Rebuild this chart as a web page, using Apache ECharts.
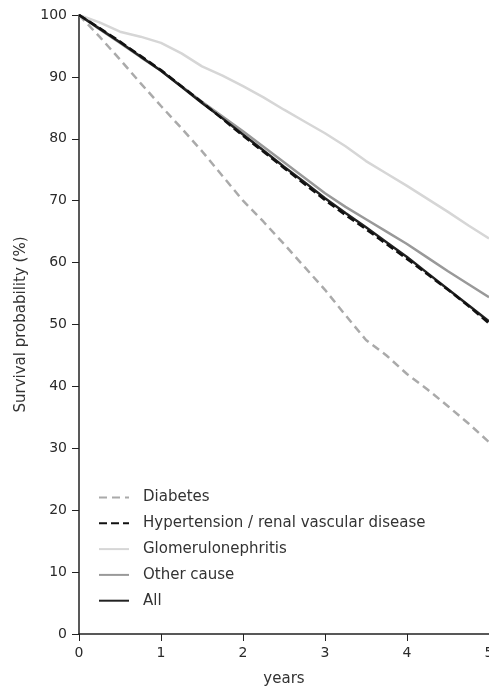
<!DOCTYPE html>
<html>
<head>
<meta charset="utf-8">
<script src="https://cdn.jsdelivr.net/npm/echarts@6/dist/echarts.min.js"></script>
<style>
html,body{margin:0;padding:0;background:#fff;}
#chart-panel{width:489px;height:691px;}
</style>
</head>
<body>
<div id="chart-panel"></div>
<script>
var years = [0, 0.25, 0.5, 0.75, 1, 1.25, 1.5, 1.75, 2, 2.25, 2.5, 2.75, 3, 3.25, 3.5, 3.75, 4, 4.25, 4.5, 4.75, 5];
var diabetes = [100, 96.5, 92.8, 89.0, 85.3, 81.7, 78.0, 74.0, 70.0, 66.6, 63.0, 59.3, 55.6, 51.5, 47.5, 45.0, 42.0, 39.5, 36.8, 34.0, 31.0];
var hypertension = [100, 97.9, 95.7, 93.4, 91.1, 88.5, 85.9, 83.2, 80.5, 77.9, 75.3, 72.7, 70.1, 67.7, 65.4, 63.0, 60.6, 58.1, 55.6, 53.0, 50.2];
var glomerulo = [100, 98.8, 97.3, 96.5, 95.5, 93.8, 91.7, 90.2, 88.5, 86.7, 84.7, 82.8, 80.9, 78.8, 76.4, 74.4, 72.4, 70.3, 68.2, 66.0, 63.9];
var otherCause = [100, 97.7, 95.5, 93.2, 91.0, 88.5, 86.0, 83.6, 81.2, 78.7, 76.2, 73.7, 71.2, 69.0, 67.0, 65.0, 63.0, 60.8, 58.6, 56.5, 54.4];
var all = [100, 97.8, 95.6, 93.3, 91.0, 88.4, 85.8, 83.3, 80.7, 78.1, 75.5, 73.0, 70.4, 68.0, 65.7, 63.3, 60.9, 58.3, 55.7, 53.1, 50.5];
var names = ['Diabetes', 'Hypertension / renal vascular disease', 'Glomerulonephritis', 'Other cause', 'All'];

var myChart = echarts.init(document.getElementById('chart-panel'));
var font = 'DejaVu Sans';

function pairs(vals) {
	var res = [];
	for (var i = 0; i < years.length; i++) {
		res.push([years[i], vals[i]]);
	}
	return res;
}

function mkLine(name, vals, color, type) {
	return {
		name: name,
		type: 'line',
		data: pairs(vals),
		symbol: 'none',
		smooth: false,
		lineStyle: {color: color, width: 2.5, type: type},
		itemStyle: {color: color},
		animation: false
	};
}

var option = {
	backgroundColor: '#fff',
	grid: {left: 79, right: 0, top: 15, bottom: 57, outerBoundsMode: 'none', containLabel: false},
	legend: {
		orient: 'vertical',
		left: 93,
		top: 485,
		itemWidth: 30,
		itemHeight: 14,
		itemGap: 10.8,
		itemStyle: {color: 'rgba(0,0,0,0)', borderWidth: 0},
		textStyle: {fontFamily: font, fontSize: 15, color: '#333', padding: [0, 0, 0, 9]},
		data: names
	},
	xAxis: {
		type: 'value',
		min: 0, max: 5, interval: 1,
		name: 'years',
		nameLocation: 'middle',
		nameGap: 38,
		nameTextStyle: {fontFamily: font, fontSize: 15, color: '#333'},
		axisLine: {lineStyle: {color: '#222', width: 1.5}},
		axisTick: {show: true, length: 7, lineStyle: {color: '#222'}},
		axisLabel: {fontFamily: font, fontSize: 14, color: '#2a2a2a', margin: 12},
		splitLine: {show: false}
	},
	yAxis: {
		type: 'value',
		min: 0, max: 100, interval: 10,
		name: 'Survival probability (%)',
		nameLocation: 'middle',
		nameGap: 50,
		nameTextStyle: {fontFamily: font, fontSize: 15, color: '#333'},
		axisLine: {show: true, lineStyle: {color: '#222', width: 1.5}},
		axisTick: {show: true, length: 7, lineStyle: {color: '#222'}},
		axisLabel: {fontFamily: font, fontSize: 14, color: '#2a2a2a', margin: 12},
		splitLine: {show: false}
	},
	series: [
		mkLine(names[2], glomerulo, '#d6d6d6', 'solid'),
		mkLine(names[3], otherCause, '#999999', 'solid'),
		mkLine(names[0], diabetes, '#aaaaaa', [8, 5]),
		mkLine(names[4], all, '#222222', 'solid'),
		mkLine(names[1], hypertension, '#111111', [8, 4])
	]
};
myChart.setOption(option);
</script>
</body>
</html>
